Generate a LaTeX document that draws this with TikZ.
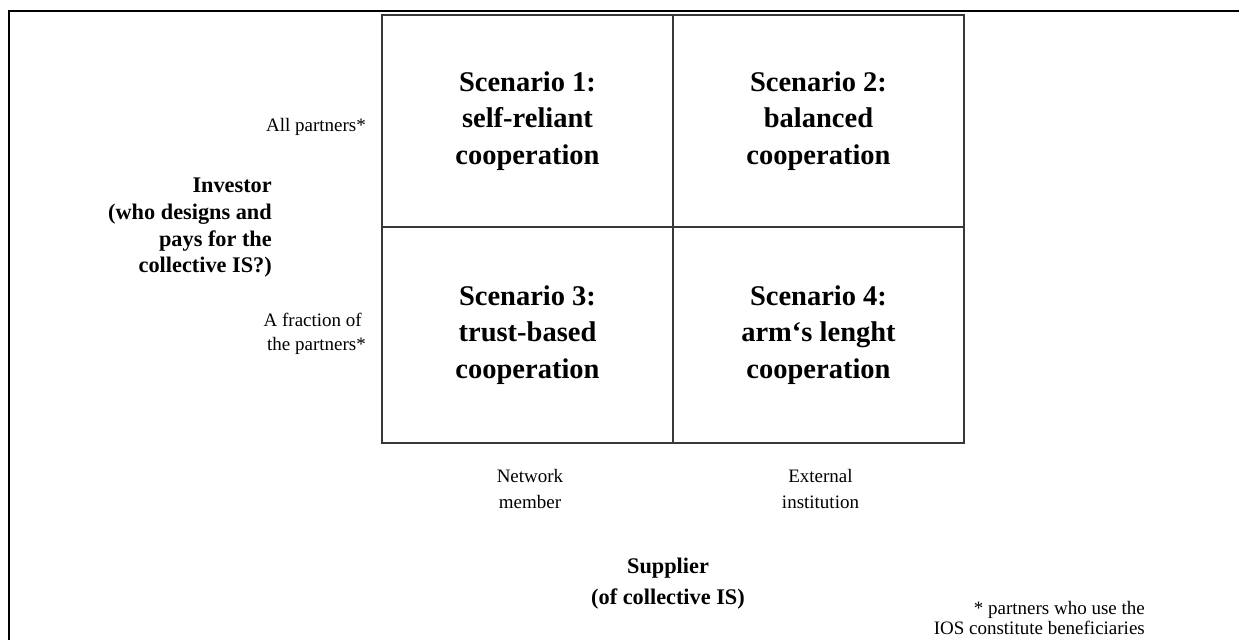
\documentclass[tikz,border=0pt]{standalone}
\usepackage{fontspec}
\setmainfont{Liberation Serif}
\begin{document}
\begin{tikzpicture}[x=1pt,y=-1pt,
  cell/.style={draw=black!78, line width=1.6pt, inner sep=0pt, align=center,
    font=\fontsize{28.5}{36.5}\selectfont\bfseries, minimum width=291pt},
  lab/.style={font=\fontsize{19}{24}\selectfont, inner sep=0pt},
  axis/.style={font=\fontsize{22.3}{26.7}\selectfont\bfseries, inner sep=0pt},
  note/.style={font=\fontsize{19}{19.5}\selectfont, inner sep=0pt, align=right}]
\useasboundingbox (0,0) rectangle (1239,640);
\draw[line width=2.2pt] (9,640) -- (9,11) -- (1239,11);
% cells
\node[cell, minimum height=212pt] (c1) at (527.5,121) {Scenario 1:\\self-reliant\\cooperation};
\node[cell, minimum height=212pt] (c2) at (818.5,121) {Scenario 2:\\balanced\\cooperation};
\node[cell, minimum height=216pt] (c3) at (527.5,335) {Scenario 3:\\trust-based\\cooperation};
\node[cell, minimum height=216pt] (c4) at (818.5,335) {Scenario 4:\\arm‘s lenght\\cooperation};
% row labels
\node[lab, anchor=east] (all) at (366,127) {All partners*};
\node[lab, anchor=east, align=right] (frac) at (366,334) {A fraction of\hspace*{4pt}\\the partners*};
\node[axis, anchor=east, align=right] (inv) at (272,228) {Investor\\(who designs and\hspace*{5pt}\\pays for the\hspace*{5pt}\\collective IS?)};
% column labels
\node[lab, align=center, font=\fontsize{19}{26}\selectfont] (net) at (530,488.5) {Network\\member};
\node[lab, align=center, font=\fontsize{19}{26}\selectfont] (ext) at (820.5,488.5) {External\\institution};
\node[axis, align=center, font=\fontsize{22.3}{31}\selectfont\bfseries] (sup) at (668,584) {Supplier\\(of collective IS)};
% footnote
\node[note, anchor=east] (fn) at (1145,618) {* partners who use the\\IOS constitute beneficiaries};
\end{tikzpicture}
\end{document}
